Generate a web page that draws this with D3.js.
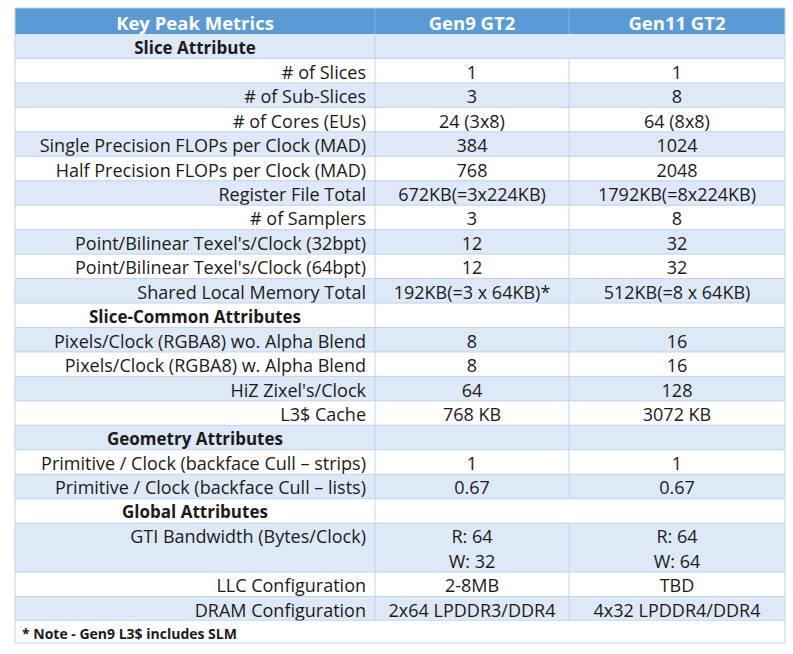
<!DOCTYPE html>
<html>
<head>
<meta charset="utf-8">
<script src="https://cdn.jsdelivr.net/npm/d3@7"></script>
<style>
  body { margin: 0; background: #fff; }
  text { font-family: "Open Sans", "Noto Sans", sans-serif; fill: #1b1b1b; }
</style>
</head>
<body>
<div id="table"></div>
<script>
// header labels
const columnHeaders = ["Key Peak Metrics", "Gen9 GT2", "Gen11 GT2"];

// row labels, "section" rows are bold centred headings
const metricLabels = [
  "Slice Attribute",
  "# of Slices",
  "# of Sub-Slices",
  "# of Cores (EUs)",
  "Single Precision FLOPs per Clock (MAD)",
  "Half Precision FLOPs per Clock (MAD)",
  "Register File Total",
  "# of Samplers",
  "Point/Bilinear Texel's/Clock (32bpt)",
  "Point/Bilinear Texel's/Clock (64bpt)",
  "Shared Local Memory Total",
  "Slice-Common Attributes",
  "Pixels/Clock (RGBA8) wo. Alpha Blend",
  "Pixels/Clock (RGBA8) w. Alpha Blend",
  "HiZ Zixel's/Clock",
  "L3$ Cache",
  "Geometry Attributes",
  "Primitive / Clock (backface Cull \u2013 strips)",
  "Primitive / Clock (backface Cull \u2013 lists)",
  "Global Attributes",
  "GTI Bandwidth (Bytes/Clock)",
  "LLC Configuration",
  "DRAM Configuration"
];

const rowKinds = [
  "section", "metric", "metric", "metric", "metric", "metric", "metric", "metric",
  "metric", "metric", "metric", "section", "metric", "metric", "metric", "metric",
  "section", "metric", "metric", "section", "metric", "metric", "metric"
];

const gen9Values = [
  "", "1", "3", "24 (3x8)", "384", "768", "672KB(=3x224KB)", "3", "12", "12",
  "192KB(=3 x 64KB)*", "", "8", "8", "64", "768 KB", "", "1", "0.67", "",
  "R: 64|W: 32", "2-8MB", "2x64 LPDDR3/DDR4"
];

const gen11Values = [
  "", "1", "8", "64 (8x8)", "1024", "2048", "1792KB(=8x224KB)", "8", "32", "32",
  "512KB(=8 x 64KB)", "", "16", "16", "128", "3072 KB", "", "1", "0.67", "",
  "R: 64|W: 64", "TBD", "4x32 LPDDR4/DDR4"
];

const footNote = "* Note - Gen9 L3$ includes SLM";

const width = 793, height = 654;
const colEdges = [15, 375, 569, 785];
const headerTop = 8, headerBottom = 34, bodyBottom = 621, noteBottom = 643;

const blue = "#5b9bd5", light = "#dde9f6", line = "#bdd4ed";

const rows = metricLabels.map((label, i) => ({
  label,
  kind: rowKinds[i],
  values: [gen9Values[i], gen11Values[i]],
  span: gen9Values[i].includes("|") ? 2 : 1
}));
let acc = 0;
rows.forEach((r, i) => { r.start = acc; acc += r.span; r.end = acc; r.index = i; });

const yScale = d3.scaleLinear()
  .domain([0, acc])
  .range([headerBottom, bodyBottom]);

const unit = yScale(1) - yScale(0);

const svg = d3.select("#table")
  .append("svg")
    .attr("width", width)
    .attr("height", height)
    .attr("viewBox", [0, 0, width, height]);

/* header */
svg.append("rect")
  .attr("x", colEdges[0]).attr("y", headerTop)
  .attr("width", colEdges[3] - colEdges[0]).attr("height", headerBottom - headerTop)
  .attr("fill", blue);

svg.selectAll(".head-sep")
  .data([colEdges[1], colEdges[2]])
  .join("line")
    .attr("x1", d => d).attr("x2", d => d)
    .attr("y1", headerTop).attr("y2", headerBottom)
    .attr("stroke", "#86b4e0");

svg.selectAll(".head-text")
  .data(columnHeaders)
  .join("text")
    .attr("x", (d, i) => (colEdges[i] + colEdges[i + 1]) / 2)
    .attr("y", (headerTop + headerBottom) / 2 + 1)
    .attr("text-anchor", "middle")
    .attr("dominant-baseline", "central")
    .style("fill", "#fff")
    .style("font-weight", 700)
    .style("font-size", "18.5px")
    .text(d => d);

/* body rows */
const rowG = svg.selectAll(".row")
  .data(rows)
  .join("g")
    .attr("class", "row");

rowG.append("rect")
  .attr("x", colEdges[0])
  .attr("y", d => yScale(d.start))
  .attr("width", colEdges[3] - colEdges[0])
  .attr("height", d => yScale(d.end) - yScale(d.start))
  .attr("fill", d => d.index % 2 === 0 ? light : "#fff");

// horizontal lines
svg.selectAll(".hline")
  .data(rows)
  .join("line")
    .attr("x1", colEdges[0]).attr("x2", colEdges[3])
    .attr("y1", d => yScale(d.end)).attr("y2", d => yScale(d.end))
    .attr("stroke", line);

// vertical lines: first divider runs full height, second skips merged section cells
svg.append("line")
  .attr("x1", colEdges[1]).attr("x2", colEdges[1])
  .attr("y1", headerBottom).attr("y2", bodyBottom)
  .attr("stroke", line);

rowG.filter(d => !(d.kind === "section" && (d.index === 0 || d.index === 19)))
  .append("line")
    .attr("x1", colEdges[2]).attr("x2", colEdges[2])
    .attr("y1", d => yScale(d.start)).attr("y2", d => yScale(d.end))
    .attr("stroke", line);

// labels
rowG.append("text")
  .attr("x", d => d.kind === "section" ? (colEdges[0] + colEdges[1]) / 2 : colEdges[1] - 9)
  .attr("y", d => yScale(d.start) + unit / 2 + 1)
  .attr("text-anchor", d => d.kind === "section" ? "middle" : "end")
  .attr("dominant-baseline", "central")
  .style("font-weight", d => d.kind === "section" ? 700 : 400)
  .style("font-size", d => d.kind === "section" ? "17px" : "18px")
  .text(d => d.label);

// values
rowG.each(function(d) {
  const g = d3.select(this);
  d.values.forEach((v, c) => {
    v.split("|").forEach((part, k) => {
      g.append("text")
        .attr("x", (colEdges[c + 1] + colEdges[c + 2]) / 2)
        .attr("y", yScale(d.start + k) + unit / 2 + 1)
        .attr("text-anchor", "middle")
        .attr("dominant-baseline", "central")
        .style("font-size", "18px")
        .text(part);
    });
  });
});

/* footnote row */
svg.append("rect")
  .attr("x", colEdges[0]).attr("y", bodyBottom)
  .attr("width", colEdges[3] - colEdges[0]).attr("height", noteBottom - bodyBottom)
  .attr("fill", "#fff");

svg.append("text")
  .attr("x", colEdges[0] + 7)
  .attr("y", (bodyBottom + noteBottom) / 2 + 1)
  .attr("dominant-baseline", "central")
  .style("font-weight", 700)
  .style("font-size", "14px")
  .text(footNote);

// outer border
svg.append("rect")
  .attr("x", colEdges[0]).attr("y", headerTop)
  .attr("width", colEdges[3] - colEdges[0]).attr("height", noteBottom - headerTop)
  .attr("fill", "none")
  .attr("stroke", line);
</script>
</body>
</html>
